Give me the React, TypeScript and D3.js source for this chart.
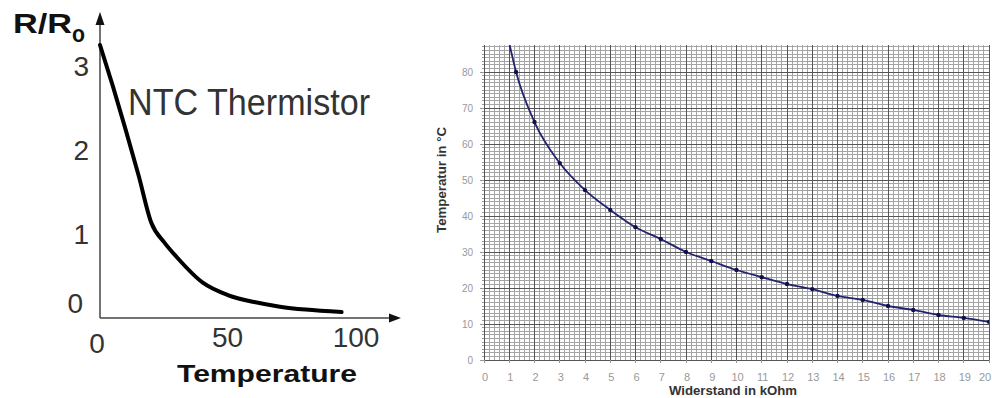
import React from 'react';
import * as d3 from 'd3';

// ---------- Left chart: NTC thermistor R/Ro vs temperature ----------
const leftTemps = [0, 5, 10, 15, 20, 25, 30, 40, 50, 60, 70, 80, 94];
const leftRatios = [3.25, 2.76, 2.24, 1.7, 1.13, 0.9, 0.72, 0.42, 0.27, 0.19, 0.135, 0.1, 0.07];
const leftYTicks = [0, 1, 2, 3];
const leftXTicks = [0, 50, 100];

// ---------- Right chart: Temperatur vs Widerstand ----------
const resistanceKOhm = [1.0, 1.27, 2, 3, 4, 5, 6, 7, 8, 9, 10, 11, 12, 13, 14, 15, 16, 17, 18, 19, 20];
const temperatureC = [88, 80, 66.1, 54.7, 47.2, 41.7, 36.9, 33.6, 30, 27.5, 25, 23, 21.1, 19.7, 17.8, 16.7, 15, 13.9, 12.5, 11.7, 10.6];
const rightXTicks = d3.range(0, 21, 1);
const rightYTicks = d3.range(0, 81, 10);

const FONT = 'Liberation Sans, Arial, Helvetica, sans-serif';

export default function App() {
  const W = 992, H = 398;

  // left scales
  const xL = d3.scaleLinear().domain([0, 100]).range([100, 357]);
  const yL = d3.scaleLinear().domain([0, 3.25]).range([318, 45]);
  const leftPts = leftTemps.map((t, i) => [t, leftRatios[i]] as [number, number]);
  const leftPath = d3.line<[number, number]>()
    .x(d => xL(d[0]))
    .y(d => yL(d[1]))
    .curve(d3.curveMonotoneX)(leftPts) || '';
  const axisY = yL(0);
  const axisX = xL(0);

  // right scales
  const xR = d3.scaleLinear().domain([0, 20]).range([484, 989]);
  const yR = d3.scaleLinear().domain([0, 87.5]).range([360, 45]);
  const [r0, r1] = xR.range();
  const [b0, t0] = yR.range();
  const minorV = d3.range(0, 20.0001, 0.2).filter(v => Math.abs(v - Math.round(v)) > 1e-6);
  const minorH = d3.range(0, 87.5, 1).filter(v => v % 10 !== 0);
  const rightPts = resistanceKOhm.map((r, i) => [r, temperatureC[i]] as [number, number]);
  const rightPath = d3.line<[number, number]>()
    .x(d => xR(d[0]))
    .y(d => yR(d[1]))
    .curve(d3.curveMonotoneX)(rightPts) || '';
  const yMax = yR.domain()[1];

  return (
    <svg width={W} height={H} style={{ position: 'absolute', left: 0, top: 0, background: '#fff' }}
      xmlns="http://www.w3.org/2000/svg">
      <defs>
        <clipPath id="plotR">
          <rect x={r0} y={t0} width={r1 - r0} height={b0 - t0} />
        </clipPath>
      </defs>
      <rect x={0} y={0} width={W} height={H} fill="#fff" />

      {/* ===== Left chart ===== */}
      <g fontFamily={FONT}>
        <line x1={axisX} y1={axisY} x2={axisX} y2={22} stroke="#444" strokeWidth={1.5} />
        <line x1={axisX} y1={axisY} x2={392} y2={axisY} stroke="#444" strokeWidth={1.5} />
        <path d={`M${axisX},12 L${axisX - 4.5},25 L${axisX + 4.5},25 Z`} fill="#111" />
        <path d={`M401,${axisY} L389,${axisY - 4.5} L389,${axisY + 4.5} Z`} fill="#111" />

        {leftYTicks.map(v => (
          <text key={'ly' + v}
            x={v === 0 ? 83 : 89}
            y={Math.min(yL(v) + 10, axisY - 5)}
            fontSize={28} fill="#333" textAnchor="end">{v}</text>
        ))}
        {leftXTicks.map(v => (
          <text key={'lx' + v}
            x={v === 0 ? xL(v) - 3 : xL(v) - 1}
            y={v === 0 ? axisY + 35 : axisY + 29}
            fontSize={28} fill="#333" textAnchor="middle">{v}</text>
        ))}

        <path d={leftPath} fill="none" stroke="#000" strokeWidth={4} strokeLinecap="round" strokeLinejoin="round" />

        <text x={13} y={33} fontSize={28} fontWeight="bold" fill="#111"
          textLength={59} lengthAdjust="spacingAndGlyphs">R/R</text>
        <text x={72} y={42} fontSize={24} fontWeight="bold" fill="#111"
          textLength={13} lengthAdjust="spacingAndGlyphs">o</text>
        <text x={128} y={115} fontSize={36} fill="#333"
          textLength={242} lengthAdjust="spacingAndGlyphs">NTC Thermistor</text>
        <text x={177} y={382} fontSize={24} fontWeight="bold" fill="#111"
          textLength={180} lengthAdjust="spacingAndGlyphs">Temperature</text>
      </g>

      {/* ===== Right chart ===== */}
      <g fontFamily={FONT}>
        <g shapeRendering="crispEdges">
          {minorV.map(v => (
            <line key={'mv' + v} x1={xR(v)} x2={xR(v)} y1={t0} y2={b0} stroke="#a4a4a4" strokeWidth={1} />
          ))}
          {minorH.map(v => (
            <line key={'mh' + v} x1={r0} x2={r1} y1={yR(v)} y2={yR(v)} stroke="#a4a4a4" strokeWidth={1} />
          ))}
          {rightXTicks.map(v => (
            <line key={'Mv' + v} x1={xR(v)} x2={xR(v)} y1={t0} y2={b0} stroke="#555" strokeWidth={1} />
          ))}
          {rightYTicks.map(v => (
            <line key={'Mh' + v} x1={r0} x2={r1} y1={yR(v)} y2={yR(v)} stroke="#555" strokeWidth={1} />
          ))}
          {d3.range(0, 88, 1).map(v => (
            <line key={'yt' + v} x1={r0} x2={r0 - (v % 10 === 0 ? 4 : 2)} y1={yR(v)} y2={yR(v)} stroke="#999" />
          ))}
          {rightXTicks.map(v => (
            <line key={'xt' + v} x1={xR(v)} x2={xR(v)} y1={b0} y2={b0 + 3} stroke="#999" />
          ))}
        </g>

        <g clipPath="url(#plotR)">
          <path d={rightPath} fill="none" stroke="#23236e" strokeWidth={1.8} />
          {rightPts.filter(d => d[1] <= yMax).map((d, i) => (
            <circle key={'p' + i} cx={xR(d[0])} cy={yR(d[1])} r={2.2} fill="#10104a" />
          ))}
        </g>

        {rightXTicks.map(v => (
          <text key={'rx' + v} x={Math.min(xR(v) + 1, 985)} y={381} fontSize={11} fill="#999" textAnchor="middle">{v}</text>
        ))}
        {rightYTicks.map(v => (
          <text key={'ry' + v} x={473} y={yR(v) + 3.5} fontSize={10} fill="#999" textAnchor="end">{v}</text>
        ))}

        <text x={733} y={395} fontSize={12} fontWeight="bold" fill="#333" textAnchor="middle"
          textLength={128} lengthAdjust="spacingAndGlyphs">Widerstand in kOhm</text>
        <text transform={`translate(446,180) rotate(-90)`} fontSize={12} fontWeight="bold" fill="#333"
          textAnchor="middle" textLength={106} lengthAdjust="spacingAndGlyphs">Temperatur in °C</text>
      </g>
    </svg>
  );
}
